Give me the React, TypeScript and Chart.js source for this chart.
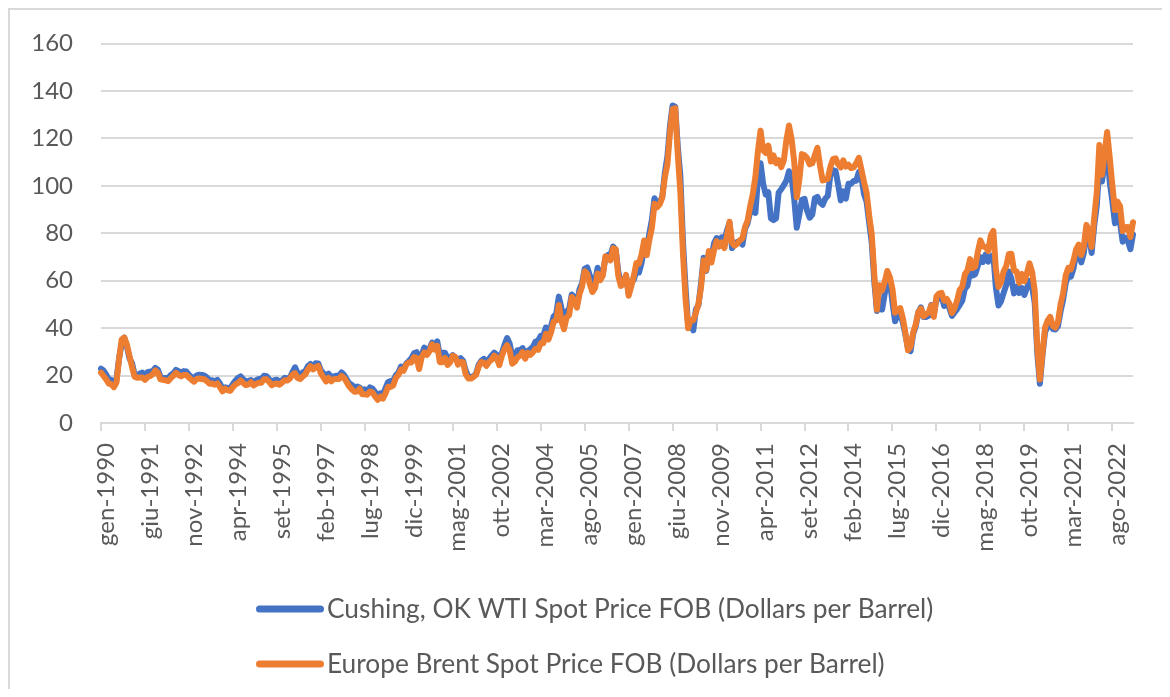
import React, { useEffect, useRef } from "react";
import { Chart, registerables } from "chart.js";

Chart.register(...registerables);

// Italian month abbreviations used for the category labels
const monthNames = ["gen", "feb", "mar", "apr", "mag", "giu", "lug", "ago", "set", "ott", "nov", "dic"];
const startYear = 1990;
const labelEvery = 17;

// Cushing, OK WTI spot price FOB (USD per barrel), monthly Jan 1990 - Apr 2023
const wti: number[] = [
  22.86, 22.11, 20.39, 18.43, 18.2, 16.7, 18.45, 27.31, 33.51, 36.04, 32.33, 27.28,
  25.23, 20.48, 19.9, 20.83, 21.23, 20.19, 21.4, 21.69, 21.89, 23.23, 22.46, 19.5,
  18.79, 19.01, 18.92, 20.23, 20.98, 22.39, 21.78, 21.34, 21.88, 21.69, 20.34, 19.41,
  19.03, 20.09, 20.32, 20.25, 19.95, 19.09, 17.89, 18.01, 17.5, 18.15, 16.61, 14.52,
  15.03, 14.78, 14.68, 16.42, 17.89, 19.06, 19.66, 18.38, 17.45, 17.72, 18.07, 17.16,
  18.04, 18.57, 18.54, 19.9, 19.74, 18.45, 17.33, 18.02, 18.23, 17.43, 17.99, 19.03,
  18.86, 19.09, 21.33, 23.5, 21.17, 20.42, 21.3, 21.9, 23.97, 24.88, 23.71, 25.23,
  25.13, 22.18, 20.97, 19.7, 20.82, 19.26, 19.66, 19.95, 19.8, 21.33, 20.19, 18.33,
  16.72, 16.06, 15.12, 15.35, 14.91, 13.72, 14.17, 13.47, 15.03, 14.46, 13.0, 11.35,
  12.52, 12.01, 14.68, 17.31, 17.72, 17.92, 20.1, 21.28, 23.8, 22.69, 25.0, 26.1,
  27.26, 29.37, 29.84, 25.72, 28.79, 31.82, 29.7, 31.26, 33.88, 33.11, 34.42, 28.44,
  29.59, 29.61, 27.25, 27.49, 28.63, 27.6, 26.43, 27.37, 26.2, 22.17, 19.64, 19.39,
  19.72, 20.72, 24.53, 26.18, 27.04, 25.52, 26.97, 28.39, 29.66, 28.84, 26.35, 29.46,
  32.95, 35.83, 33.51, 28.17, 28.11, 30.66, 30.75, 31.57, 28.31, 30.34, 31.11, 32.13,
  34.31, 34.69, 36.74, 36.75, 40.28, 38.03, 40.78, 44.9, 45.94, 53.28, 48.47, 43.15,
  46.84, 48.15, 54.19, 52.98, 49.83, 56.35, 59.0, 64.99, 65.59, 62.26, 58.32, 59.41,
  65.49, 61.63, 62.69, 69.44, 70.84, 70.95, 74.41, 73.04, 63.8, 58.89, 59.08, 61.96,
  54.51, 59.28, 60.44, 63.98, 63.46, 67.49, 74.12, 72.36, 79.92, 85.8, 94.77, 91.69,
  92.97, 95.39, 105.45, 112.58, 125.4, 133.88, 133.37, 116.67, 104.11, 76.61, 57.31, 41.12,
  41.71, 39.09, 47.94, 49.65, 59.03, 69.64, 64.15, 71.05, 69.41, 75.72, 77.99, 74.47,
  78.33, 76.39, 81.2, 84.29, 73.74, 75.34, 76.32, 76.6, 75.24, 81.89, 84.25, 89.15,
  89.17, 88.58, 102.86, 109.53, 100.9, 96.26, 97.3, 86.33, 85.52, 86.32, 97.16, 98.56,
  100.27, 102.2, 106.16, 103.32, 94.66, 82.3, 87.9, 94.13, 94.51, 89.49, 86.53, 87.86,
  94.76, 95.31, 92.94, 92.02, 94.51, 95.77, 104.67, 106.57, 106.29, 100.54, 93.86, 97.63,
  94.62, 100.82, 100.8, 102.07, 102.18, 105.79, 103.59, 96.54, 93.21, 84.4, 75.79, 59.29,
  47.22, 50.58, 47.82, 54.45, 59.27, 59.82, 50.9, 42.87, 45.48, 46.22, 42.44, 37.19,
  31.68, 30.32, 37.55, 40.75, 46.71, 48.76, 44.65, 44.72, 45.18, 49.78, 45.66, 51.97,
  52.5, 53.47, 49.33, 51.06, 48.48, 45.18, 46.63, 48.04, 49.82, 51.58, 56.64, 57.88,
  63.7, 62.23, 62.73, 66.25, 69.98, 67.87, 70.98, 68.06, 70.23, 70.75, 56.96, 49.52,
  51.38, 54.95, 58.15, 63.86, 60.83, 54.66, 57.35, 54.81, 56.95, 53.96, 57.03, 59.88,
  57.52, 50.54, 29.21, 16.55, 28.56, 38.31, 40.71, 42.34, 39.63, 39.4, 40.94, 47.02,
  52.0, 59.04, 62.33, 61.72, 65.17, 71.38, 72.49, 67.73, 71.65, 81.48, 79.15, 71.71,
  83.22, 91.64, 108.5, 101.78, 109.55, 114.84, 101.62, 93.67, 84.26, 87.55, 84.37, 76.44,
  78.12, 76.83, 73.28, 79.45,
];

// Europe Brent spot price FOB (USD per barrel), monthly Jan 1990 - Apr 2023
const brent: number[] = [
  21.25, 19.81, 18.39, 16.61, 16.35, 15.1, 17.17, 27.17, 35.23, 36.02, 33.07, 28.27,
  23.57, 19.54, 19.08, 19.18, 19.19, 18.17, 19.4, 19.77, 20.5, 22.21, 21.11, 18.41,
  18.16, 18.05, 17.63, 18.92, 19.89, 21.16, 20.19, 19.74, 20.27, 20.26, 19.14, 18.2,
  17.41, 18.57, 18.73, 18.57, 18.42, 17.54, 16.55, 16.63, 16.17, 16.7, 15.11, 13.36,
  14.46, 13.8, 13.57, 15.13, 16.24, 16.85, 17.93, 16.9, 15.93, 16.25, 17.2, 15.88,
  16.52, 16.96, 16.99, 18.46, 18.43, 17.31, 15.94, 16.48, 16.68, 16.12, 17.02, 18.07,
  17.94, 18.66, 20.35, 21.02, 18.98, 18.55, 19.61, 20.49, 22.55, 24.0, 22.59, 23.55,
  24.11, 20.9, 19.27, 17.56, 19.02, 17.58, 18.46, 18.6, 18.5, 19.85, 19.04, 17.15,
  15.34, 14.12, 13.2, 13.3, 14.47, 12.08, 12.08, 11.94, 13.3, 12.88, 11.1, 9.82,
  11.12, 10.27, 12.51, 15.29, 15.23, 15.86, 19.08, 20.22, 22.54, 22.01, 24.59, 25.5,
  25.51, 27.78, 27.49, 22.76, 27.74, 29.8, 28.68, 30.2, 33.14, 30.96, 32.55, 25.66,
  25.62, 27.5, 24.5, 25.66, 28.31, 27.85, 24.61, 25.68, 25.62, 20.54, 18.8, 18.71,
  19.42, 20.28, 23.7, 25.73, 25.35, 24.08, 25.74, 26.65, 28.4, 27.54, 24.34, 28.33,
  31.18, 32.77, 30.61, 25.0, 25.86, 27.65, 28.35, 29.89, 27.11, 29.61, 28.75, 29.81,
  31.28, 30.86, 33.63, 33.59, 37.57, 35.18, 38.22, 42.74, 43.2, 49.78, 43.11, 39.6,
  44.51, 45.48, 53.1, 51.88, 48.65, 54.35, 57.52, 63.98, 62.91, 58.54, 55.24, 56.86,
  62.99, 60.21, 62.06, 70.26, 69.78, 68.56, 73.67, 73.23, 61.96, 57.81, 58.76, 62.47,
  53.68, 57.56, 62.05, 67.49, 67.21, 71.05, 76.93, 70.76, 77.17, 82.34, 92.41, 90.93,
  92.18, 94.99, 103.64, 109.07, 122.8, 132.32, 132.72, 113.24, 97.23, 71.58, 52.45, 39.95,
  43.44, 43.32, 46.54, 50.18, 57.3, 68.61, 64.44, 72.51, 67.65, 72.77, 76.66, 74.46,
  76.17, 73.75, 78.83, 84.82, 75.95, 74.76, 75.58, 77.04, 77.84, 82.67, 85.28, 91.45,
  96.52, 103.72, 114.64, 123.26, 114.99, 113.83, 116.97, 110.22, 112.83, 109.55, 110.77, 107.87,
  110.69, 119.33, 125.45, 119.75, 110.34, 95.16, 102.62, 113.36, 112.86, 111.71, 109.06, 109.49,
  112.96, 116.05, 108.47, 102.25, 102.56, 102.92, 107.93, 111.28, 111.6, 109.08, 107.79, 110.76,
  108.12, 108.9, 107.48, 107.76, 109.54, 111.8, 106.77, 101.61, 97.09, 87.43, 79.44, 62.34,
  47.76, 58.1, 55.89, 59.52, 64.08, 61.48, 56.56, 46.52, 47.62, 48.43, 44.27, 38.01,
  30.7, 32.18, 38.21, 41.58, 46.74, 48.25, 44.95, 45.84, 46.57, 49.52, 44.73, 53.31,
  54.58, 54.87, 51.59, 52.31, 50.33, 46.37, 48.48, 51.7, 56.15, 57.51, 62.71, 64.37,
  69.08, 65.32, 66.02, 72.11, 76.98, 74.41, 74.25, 72.53, 78.89, 81.03, 64.75, 57.36,
  59.41, 63.96, 66.14, 71.23, 71.32, 64.22, 63.92, 59.04, 62.83, 59.71, 63.21, 67.31,
  63.65, 55.66, 32.01, 18.38, 29.38, 40.27, 43.24, 44.74, 40.91, 40.19, 42.69, 49.99,
  54.77, 62.28, 65.41, 64.81, 68.53, 73.16, 75.17, 70.75, 74.49, 83.54, 81.05, 74.17,
  86.51, 97.13, 117.25, 104.58, 113.34, 122.71, 111.93, 100.45, 89.76, 93.33, 91.42, 80.92,
  82.5, 82.59, 78.43, 84.64,
];

const seriesNames = [
  "Cushing, OK WTI Spot Price FOB (Dollars per Barrel)",
  "Europe Brent Spot Price FOB (Dollars per Barrel)",
];
const seriesColors = ["#4472C4", "#ED7D31"];

const labels = wti.map((_, i) => `${monthNames[i % 12]}-${startYear + Math.floor(i / 12)}`);

const FONT = "Lato, 'Open Sans', sans-serif";
const TEXT = "#595959";
const GRID = "#d9d9d9";

const excelLegend = {
  id: "excelLegend",
  afterDraw(chart: any, _args: any, opts: any) {
    const ctx = chart.ctx;
    ctx.save();
    chart.data.datasets.forEach((ds: any, i: number) => {
      const y = opts.top + i * opts.rowGap;
      ctx.strokeStyle = ds.borderColor;
      ctx.lineWidth = opts.lineWidth;
      ctx.lineCap = "round";
      ctx.beginPath();
      ctx.moveTo(opts.left, y);
      ctx.lineTo(opts.left + opts.lineLength, y);
      ctx.stroke();
      ctx.fillStyle = opts.color;
      ctx.font = opts.font;
      ctx.textAlign = "left";
      ctx.textBaseline = "alphabetic";
      ctx.fillText(ds.label, opts.textX, y + opts.baselineShift);
    });
    ctx.restore();
  },
};

export default function App() {
  const canvasRef = useRef<HTMLCanvasElement | null>(null);

  useEffect(() => {
    if (!canvasRef.current) return;
    const chart = new Chart(canvasRef.current, {
      type: "line",
      data: {
        labels,
        datasets: [
          {
            label: seriesNames[0],
            data: wti,
            borderColor: seriesColors[0],
            backgroundColor: seriesColors[0],
            borderWidth: 6,
            pointRadius: 0,
            tension: 0,
            borderJoinStyle: "round",
            borderCapStyle: "round",
            order: 1,
          },
          {
            label: seriesNames[1],
            data: brent,
            borderColor: seriesColors[1],
            backgroundColor: seriesColors[1],
            borderWidth: 6,
            pointRadius: 0,
            tension: 0,
            borderJoinStyle: "round",
            borderCapStyle: "round",
            order: 0,
          },
        ],
      },
      options: {
        responsive: false,
        animation: false,
        devicePixelRatio: 1,
        layout: { padding: { top: 33.5, right: 33, bottom: 126, left: 0 } },
        plugins: {
          legend: { display: false },
          tooltip: { enabled: false },
          title: { display: false },
          excelLegend: {
            left: 249.5,
            lineLength: 61,
            lineWidth: 7,
            textX: 317,
            top: 599,
            rowGap: 55,
            color: TEXT,
            font: `26.3px ${FONT}`,
            baselineShift: 9,
          },
        } as any,
        scales: {
          x: {
            type: "category",
            offset: false,
            afterBuildTicks: (scale: any) => {
              scale.ticks = scale.ticks.filter((t: any) => t.value % labelEvery === 0);
            },
            afterFit: (scale: any) => {
              scale.height = 140;
            },
            grid: {
              display: true,
              drawOnChartArea: false,
              drawTicks: true,
              tickLength: 8,
              color: GRID,
              lineWidth: 2,
            },
            border: { display: true, color: GRID, width: 2 },
            ticks: {
              autoSkip: false,
              maxRotation: 90,
              minRotation: 90,
              padding: 12,
              labelOffset: 5,
              color: TEXT,
              font: { family: FONT, size: 24 },
            },
          },
          y: {
            min: 0,
            max: 160,
            afterFit: (scale: any) => {
              scale.width = 91;
              scale.paddingTop = 12;
              scale.paddingBottom = 12;
            },
            grid: { color: GRID, lineWidth: 2, drawTicks: false },
            border: { display: false },
            ticks: {
              stepSize: 20,
              padding: 28,
              color: TEXT,
              font: { family: FONT, size: 24 },
            },
          },
        },
      },
      plugins: [excelLegend],
    });
    return () => chart.destroy();
  }, []);

  return (
    <div
      style={{
        position: "relative",
        width: 1160,
        height: 681,
        boxSizing: "border-box",
        border: `2px solid ${GRID}`,
        borderBottom: "none",
        background: "#ffffff",
      }}
    >
      <canvas ref={canvasRef} width={1156} height={679} style={{ display: "block" }} />
    </div>
  );
}
